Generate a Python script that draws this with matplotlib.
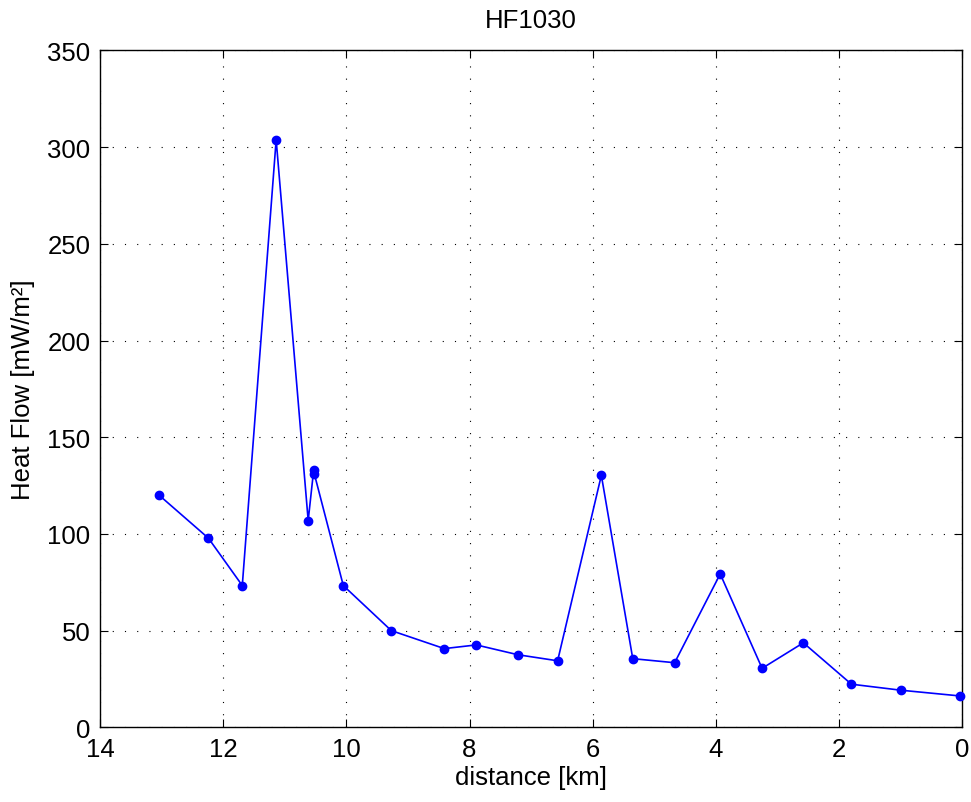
import matplotlib
matplotlib.use("Agg")
import matplotlib.pyplot as plt

# distance along profile [km] and heat flow [mW/m^2]
distance = [13.04, 12.24, 11.69, 11.14, 10.62, 10.53, 10.52, 10.05, 9.27, 8.41,
            7.89, 7.21, 6.57, 5.86, 5.35, 4.67, 3.93, 3.25, 2.58, 1.80, 1.00, 0.03]
heat_flow = [120.0, 97.8, 73.3, 303.8, 106.9, 133.3, 131.0, 73.3, 50.0, 40.7,
             42.6, 37.5, 34.4, 130.3, 35.5, 33.4, 79.3, 30.5, 43.7, 22.3, 19.2, 16.2]

x_ticks = [14, 12, 10, 8, 6, 4, 2, 0]
y_ticks = [0, 50, 100, 150, 200, 250, 300, 350]

plt.rcParams['font.family'] = ['Liberation Sans', 'DejaVu Sans']
fs = 18.5

fig = plt.figure(figsize=(9.71, 8.03), dpi=100)
ax = fig.add_axes([0.103, 0.093, 0.888, 0.843])

ax.plot(distance, heat_flow, color='blue', linewidth=1.2, marker='o',
        markersize=6, clip_on=False, zorder=3)

ax.set_xlim(14, 0)
ax.set_ylim(0, 350)
ax.set_xticks(x_ticks)
ax.set_yticks(y_ticks)
ax.tick_params(direction='in', length=6, width=0.8, top=True, right=True,
               labelsize=fs, pad=7)
for s in ax.spines.values():
    s.set_linewidth(1.0)

ax.grid(True, color='black', linestyle=(0, (1, 10)), linewidth=0.8)

ax.set_title("HF1030", fontsize=fs, pad=17)
ax.set_xlabel("distance [km]", fontsize=fs, labelpad=3)
ax.set_ylabel("Heat Flow [mW/m²]", fontsize=fs, labelpad=9)

fig.savefig("out.png", dpi=100)
